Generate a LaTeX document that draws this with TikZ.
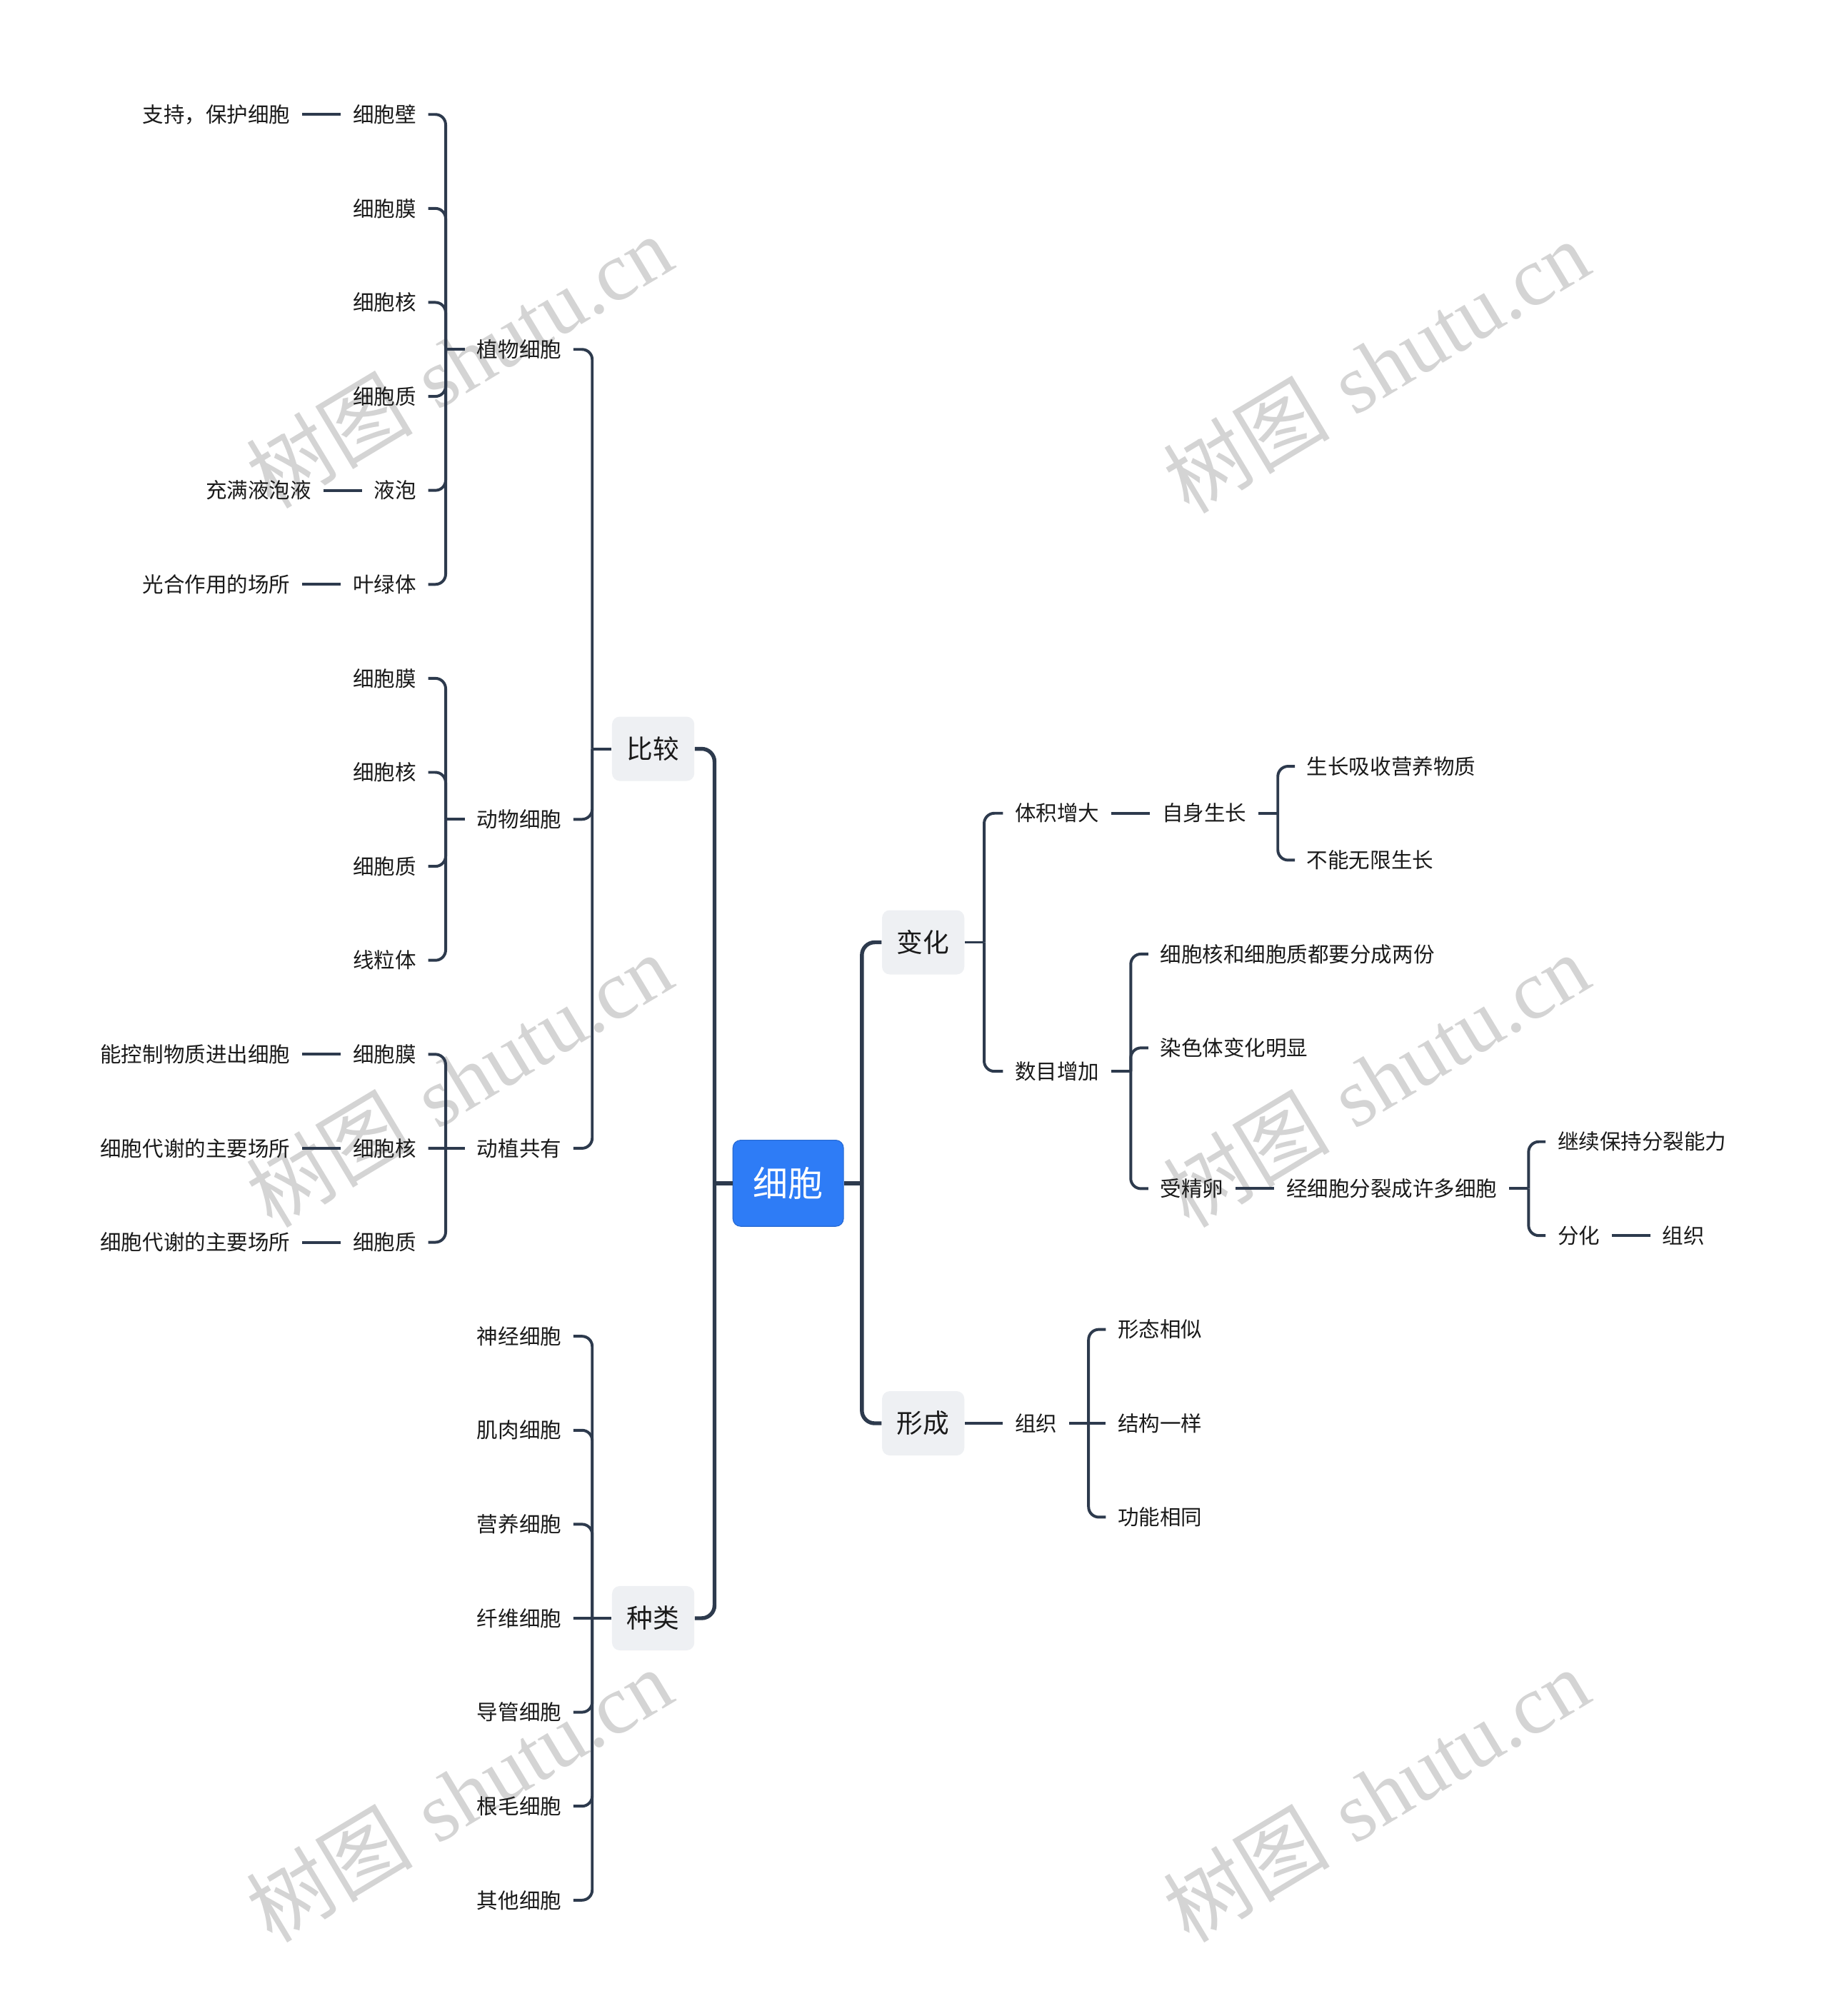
\documentclass[tikz,border=0pt]{standalone}
\usepackage{fontspec}
\usetikzlibrary{positioning}
\newfontfamily\cjk{Noto Sans CJK SC}
\newfontfamily\wmserif{Liberation Serif}
\definecolor{linkc}{RGB}{45,58,77}
\definecolor{rootc}{RGB}{46,124,246}
\definecolor{topicc}{RGB}{238,240,243}
\definecolor{inkc}{RGB}{26,26,26}
\tikzset{
  link/.style    = {draw=linkc, line width=1.1pt, rounded corners=4pt},
  mlink/.style   = {draw=linkc, line width=1.5pt, rounded corners=5pt},
  rootbox/.style = {fill=rootc, draw=rootc!85!black, line width=0.3pt,
                    rounded corners=3pt, minimum width=43pt, minimum height=33.5pt,
                    inner sep=0pt, text=white, font=\cjk\fontsize{13.6pt}{16pt}\selectfont},
  topic/.style   = {fill=topicc, rounded corners=3pt, minimum width=32pt,
                    minimum height=25pt, inner sep=0pt, text=inkc,
                    font=\cjk\fontsize{10.2pt}{12pt}\selectfont},
  leaf/.style    = {inner xsep=4.5pt, inner ysep=2pt, text=inkc,
                    font=\cjk\fontsize{8.2pt}{10pt}\selectfont},
  lleaf/.style   = {leaf, anchor=east},
  rleaf/.style   = {leaf, anchor=west},
  wmark/.style   = {rotate=31, text=black!17, inner sep=0pt,
                    font=\fontsize{32.5pt}{32.5pt}\selectfont},
}
\newcommand{\wmtext}{{\cjk 树图} {\wmserif shutu.cn}}

\begin{document}
\begin{tikzpicture}[x=0.5pt,y=-0.5pt]
  \useasboundingbox (0,0) rectangle (1422,1568);
  % watermarks
  \foreach \wx/\wy in {357/281,1070/285,357/840,1070/840,357/1396,1070/1396}
    \node[wmark] (wm\wx-\wy) at (\wx,\wy) {\wmtext};

  % root and main topics
  \node[rootbox] (cell) at (613,920.3) {细胞};
  \node[topic] (cmp)  at (508,582.4)  {比较};
  \node[topic] (kind) at (508,1258.6) {种类};
  \node[topic] (chg)  at (718,732.9)  {变化};
  \node[topic] (form) at (718,1107)   {形成};
  \draw[mlink] (cell.west) -- ++(-14,0) coordinate (jl);
  \foreach \n in {cmp,kind} \draw[mlink] (jl) |- (\n.east);
  \draw[mlink] (cell.east) -- ++(14,0) coordinate (jr);
  \foreach \n in {chg,form} \draw[mlink] (jr) |- (\n.west);

  % 比较
  \node[lleaf] (plant) at (446,271.75) {植物细胞};
  \node[lleaf] (anim)  at (446,637.25) {动物细胞};
  \node[lleaf] (both)  at (446,893.1)  {动植共有};
  \draw[link] (cmp.west) -- ++(-15,0) coordinate (jc);
  \foreach \n in {plant,anim} \draw[link] (jc) |- (\n.east);
  \draw[link] (jc) |- (both.east);

  % left leaves
  \foreach \t [count=\i from 0] in {细胞壁,细胞膜,细胞核,细胞质,液泡,叶绿体,
      细胞膜,细胞核,细胞质,线粒体,细胞膜,细胞核,细胞质}
    \node[lleaf] (p\i) at (333,{89+73.1*\i}) {\t};
  \draw[link] (plant.west) -- ++(-15,0) coordinate (jp);
  \foreach \i in {0,...,5} \draw[link] (jp) |- (p\i.east);
  \draw[link] (anim.west) -- ++(-15,0) coordinate (ja);
  \foreach \i in {6,...,9} \draw[link] (ja) |- (p\i.east);
  \draw[link] (both.west) -- ++(-15,0) coordinate (jb);
  \foreach \i in {10,12} \draw[link] (jb) |- (p\i.east);
  \draw[link] (jb) -- (p11.east);

  \node[lleaf, left=15pt of p0]  (x0)  {支持，保护细胞};
  \node[lleaf, left=15pt of p4]  (x4)  {充满液泡液};
  \node[lleaf, left=15pt of p5]  (x5)  {光合作用的场所};
  \node[lleaf, left=15pt of p10] (x10) {能控制物质进出细胞};
  \node[lleaf, left=15pt of p11] (x11) {细胞代谢的主要场所};
  \node[lleaf, left=15pt of p12] (x12) {细胞代谢的主要场所};
  \foreach \i in {0,4,5,10,11,12} \draw[link] (x\i.east) -- (p\i.west);

  % 种类
  \foreach \t [count=\i from 13] in {神经细胞,肌肉细胞,营养细胞,纤维细胞,导管细胞,根毛细胞,其他细胞}
    \node[lleaf] (k\i) at (446,{89+73.1*\i}) {\t};
  \draw[link] (kind.west) -- ++(-15,0) coordinate (jk);
  \foreach \i in {13,14,15,17,18,19} \draw[link] (jk) |- (k\i.east);
  \draw[link] (jk) -- (k16.east);

  % 变化
  \node[rleaf] (vol) at (780,632.5)  {体积增大};
  \node[rleaf] (num) at (780,833.25) {数目增加};
  \draw[link] (chg.east) -- ++(15,0) coordinate (jg);
  \foreach \n in {vol,num} \draw[link] (jg) |- (\n.west);
  \node[rleaf, right=15pt of vol] (self) {自身生长};
  \draw[link] (vol.east) -- (self.west);
  \node[rleaf] (s1) at (1007,596) {生长吸收营养物质};
  \node[rleaf] (s2) at (1007,669) {不能无限生长};
  \draw[link] (self.east) -- ++(15,0) coordinate (js);
  \foreach \n in {s1,s2} \draw[link] (js) |- (\n.west);

  \node[rleaf] (n1)  at (893,742)   {细胞核和细胞质都要分成两份};
  \node[rleaf] (n2)  at (893,815)   {染色体变化明显};
  \node[rleaf] (egg) at (893,924.5) {受精卵};
  \draw[link] (num.east) -- ++(15,0) coordinate (jn);
  \foreach \n in {n1,n2,egg} \draw[link] (jn) |- (\n.west);
  \node[rleaf, right=15pt of egg] (split) {经细胞分裂成许多细胞};
  \draw[link] (egg.east) -- (split.west);
  \node[rleaf] (keep) at (1202,888) {继续保持分裂能力};
  \node[rleaf] (diff) at (1202,961) {分化};
  \draw[link] (split.east) -- ++(15,0) coordinate (jd);
  \foreach \n in {keep,diff} \draw[link] (jd) |- (\n.west);
  \node[rleaf, right=15pt of diff] (tis1) {组织};
  \draw[link] (diff.east) -- (tis1.west);

  % 形成
  \node[rleaf] (tis) at (780,1107) {组织};
  \draw[link] (form.east) -- (tis.west);
  \node[rleaf] (f1) at (860,1034) {形态相似};
  \node[rleaf] (f2) at (860,1107) {结构一样};
  \node[rleaf] (f3) at (860,1180) {功能相同};
  \draw[link] (tis.east) -- ++(15,0) coordinate (jf);
  \foreach \n in {f1,f3} \draw[link] (jf) |- (\n.west);
  \draw[link] (jf) -- (f2.west);
\end{tikzpicture}
\end{document}
